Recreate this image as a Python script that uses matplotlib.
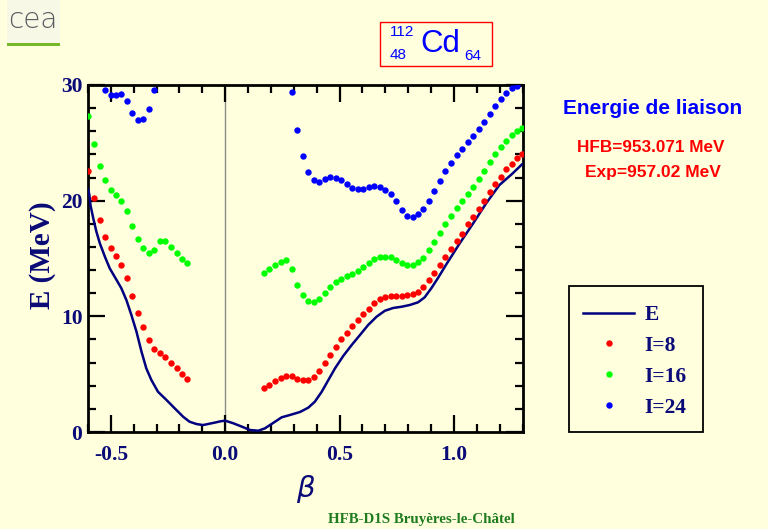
import matplotlib
matplotlib.use("Agg")
import matplotlib.pyplot as plt
from matplotlib.patches import Rectangle
from matplotlib.lines import Line2D
from matplotlib.ticker import MultipleLocator

BG = "#FFFFDD"
NAVY = "#0A0A78"

# HFB ground-state energy curve
beta_curve = [-0.6, -0.594, -0.589, -0.577, -0.563, -0.548, -0.526, -0.505, -0.475, -0.454,
              -0.432, -0.410, -0.388, -0.366, -0.345, -0.323, -0.294, -0.257, -0.221, -0.184,
              -0.156, -0.126, -0.097, -0.068, -0.039, -0.022, 0.0, 0.036, 0.073, 0.109,
              0.145, 0.174, 0.211, 0.247, 0.283, 0.327, 0.363, 0.392, 0.422, 0.451,
              0.480, 0.516, 0.553, 0.589, 0.625, 0.662, 0.698, 0.734, 0.771, 0.807,
              0.843, 0.872, 0.901, 0.930, 0.967, 1.025, 1.083, 1.141, 1.199, 1.257,
              1.298]
energy_curve = [21.0, 20.5, 19.6, 18.47, 17.3, 16.3, 15.15, 14.15, 13.14, 12.42,
                11.4, 10.1, 8.67, 6.94, 5.5, 4.5, 3.48, 2.77, 2.05, 1.32,
                0.89, 0.69, 0.6, 0.72, 0.84, 0.92, 0.98, 0.75, 0.46, 0.17,
                0.11, 0.32, 0.8, 1.27, 1.47, 1.73, 2.1, 2.62, 3.48, 4.49,
                5.5, 6.57, 7.52, 8.38, 9.25, 9.97, 10.48, 10.72, 10.83, 10.98,
                11.21, 11.64, 12.42, 13.3, 14.5, 16.3, 18.0, 19.77, 21.35, 22.36,
                23.14]

# deformation grids of the cranking points (oblate / prolate side)
beta_obl = [-0.599, -0.574, -0.549, -0.525, -0.501, -0.478, -0.454, -0.430, -0.406, -0.382,
            -0.358, -0.334, -0.310, -0.286, -0.262, -0.238, -0.213, -0.190, -0.166]
beta_pro = [0.170, 0.193, 0.218, 0.243, 0.266, 0.291, 0.315, 0.339, 0.363, 0.387,
            0.411, 0.435, 0.459, 0.483, 0.507, 0.531, 0.555, 0.579, 0.603, 0.627,
            0.651, 0.675, 0.699, 0.723, 0.747, 0.771, 0.795, 0.819, 0.843, 0.867,
            0.891, 0.915, 0.939, 0.963, 0.987, 1.012, 1.035, 1.060, 1.083, 1.108,
            1.131, 1.156, 1.179, 1.204, 1.227, 1.252, 1.275, 1.298]

i8_obl = [22.6, 20.2, 18.3, 16.9, 15.9, 15.2, 14.4, 13.3, 11.8, 10.3,
          9.05, 7.95, 7.2, 6.85, 6.45, 6.0, 5.5, 5.0, 4.6]
i8_pro = [3.77, 4.06, 4.4, 4.64, 4.87, 4.8, 4.58, 4.47, 4.52, 4.78,
          5.27, 5.96, 6.66, 7.37, 8.0, 8.6, 9.13, 9.65, 10.17, 10.63,
          11.12, 11.5, 11.64, 11.75, 11.8, 11.8, 11.84, 11.9, 12.13, 12.53,
          13.1, 13.74, 14.43, 15.15, 15.8, 16.53, 17.16, 17.98, 18.58, 19.24,
          19.99, 20.71, 21.43, 22.07, 22.7, 23.2, 23.65, 24.0]

i16_obl = [27.3, 24.9, 23.0, 21.75, 20.9, 20.5, 20.0, 19.1, 17.8, 16.65,
           15.9, 15.5, 15.7, 16.5, 16.5, 16.0, 15.5, 15.0, 14.6]
i16_pro = [13.74, 14.06, 14.43, 14.66, 14.84, 14.11, 12.7, 11.81, 11.32, 11.2,
           11.47, 11.98, 12.53, 12.94, 13.22, 13.45, 13.65, 13.9, 14.26, 14.6,
           14.95, 15.1, 15.15, 15.1, 14.87, 14.58, 14.4, 14.43, 14.66, 15.06,
           15.7, 16.4, 17.23, 17.95, 18.64, 19.33, 19.94, 20.57, 21.18, 21.87,
           22.56, 23.31, 24.0, 24.66, 25.2, 25.7, 26.04, 26.3]

beta_i24_obl = [-0.525, -0.501, -0.478, -0.454, -0.430, -0.406, -0.382, -0.358, -0.334, -0.310]
i24_obl = [29.6, 29.1, 29.1, 29.2, 28.6, 27.6, 27.0, 27.05, 27.9, 29.6]
beta_i24_pro = beta_pro[5:47]
i24_pro = [29.4, 26.1, 23.9, 22.5, 21.75, 21.6, 21.84, 22.07, 22.0, 21.75,
           21.4, 21.06, 20.97, 21.0, 21.18, 21.26, 21.15, 20.9, 20.54, 19.97,
           19.2, 18.64, 18.55, 18.84, 19.27, 19.97, 20.8, 21.7, 22.56, 23.28,
           23.91, 24.5, 25.04, 25.56, 26.16, 26.8, 27.48, 28.2, 28.78, 29.27,
           29.7, 29.95]

SERIF = "Liberation Serif"
SANS = "Liberation Sans"
plt.rcParams["axes.unicode_minus"] = False

W, H = 768, 529
fig = plt.figure(figsize=(W / 100, H / 100), dpi=100, facecolor=BG)


def fx(px):
    return px / W


def fy(py):
    return 1 - py / H


ax = fig.add_axes([fx(88), fy(432), fx(522.5) - fx(88), fy(85) - fy(432)])
ax.set_facecolor(BG)

ax.axvline(0.0, color="#8C8C8C", lw=1.0, zorder=1)
ax.plot(beta_curve, energy_curve, color="#000080", lw=1.8, zorder=3)

mk = dict(marker="o", ls="none", ms=4.6, mew=0, zorder=4)
ax.plot(beta_obl, i8_obl, color="#FF0000", **mk)
ax.plot(beta_pro, i8_pro, color="#FF0000", **mk)
ax.plot(beta_obl, i16_obl, color="#00FF00", **mk)
ax.plot(beta_pro, i16_pro, color="#00FF00", **mk)
ax.plot(beta_i24_obl, i24_obl, color="#0000FF", **mk)
ax.plot(beta_i24_pro, i24_pro, color="#0000FF", **mk)

ax.set_xlim(-0.6, 1.3)
ax.set_ylim(0, 30)
ax.xaxis.set_minor_locator(MultipleLocator(0.1))
ax.yaxis.set_major_locator(MultipleLocator(10))
ax.yaxis.set_minor_locator(MultipleLocator(2))
ax.set_xticks([-0.5, 0.0, 0.5, 1.0])
ax.set_xticklabels(["-0.5", "0.0", "0.5", "1.0"])
ax.tick_params(which="both", direction="in", top=True, right=True, width=1.6, color="black")
ax.tick_params(which="major", length=12)
ax.tick_params(which="minor", length=6)
ax.tick_params(axis="x", which="major", pad=9)
ax.tick_params(axis="y", which="major", pad=4)
for lab in ax.get_xticklabels() + ax.get_yticklabels():
    lab.set_fontfamily(SERIF)
    lab.set_fontweight("bold")
    lab.set_fontsize(15.5)
    lab.set_color(NAVY)
for sp in ax.spines.values():
    sp.set_linewidth(2.0)
    sp.set_color("black")

fig.text(fx(42), fy(255), "E (MeV)", rotation=90, ha="center", va="center",
         fontfamily=SERIF, fontweight="bold", fontsize=21, color=NAVY)
fig.text(fx(305), fy(489), "\u03b2", ha="center", va="center", fontfamily="DejaVu Sans",
         style="italic", fontsize=21, color=NAVY)

# legend: frame drawn separately, entries placed inside it
fig.patches.append(Rectangle((fx(569), fy(432)), fx(703) - fx(569), fy(286) - fy(432),
                             transform=fig.transFigure, facecolor=BG, edgecolor="black",
                             lw=1.3, zorder=0))
handles = [
    Line2D([], [], color="#000080", lw=1.8),
    Line2D([], [], color="#FF0000", marker="o", ls="none", ms=4.6, mew=0),
    Line2D([], [], color="#00FF00", marker="o", ls="none", ms=4.6, mew=0),
    Line2D([], [], color="#0000FF", marker="o", ls="none", ms=4.6, mew=0),
]
fig.legend(handles, ["E", "I=8", "I=16", "I=24"], loc="upper left",
           bbox_to_anchor=(fx(583), fy(305)), bbox_transform=fig.transFigure,
           prop=dict(family=SERIF, weight="bold", size=15.5), labelcolor=NAVY,
           frameon=False, borderpad=0, labelspacing=0.5, handlelength=2.37,
           handletextpad=0.5, borderaxespad=0)

fig.text(fx(653), fy(108), "Energie de liaison", ha="center", va="center",
         fontfamily=SANS, fontweight="bold", fontsize=15, color="#0000FF")
fig.text(fx(651), fy(148), "HFB=953.071 MeV", ha="center", va="center",
         fontfamily=SANS, fontweight="bold", fontsize=12.3, color="#FF0000")
fig.text(fx(653), fy(173), "Exp=957.02 MeV", ha="center", va="center",
         fontfamily=SANS, fontweight="bold", fontsize=12.5, color="#FF0000")

fig.text(fx(421), fy(520), "HFB-D1S Bruyères-le-Châtel", ha="center", va="center",
         fontfamily=SERIF, fontweight="bold", fontsize=10.8, color="#1E7B1E")

# nucleus label box
fig.patches.append(Rectangle((fx(380), fy(66)), fx(492) - fx(380), fy(22) - fy(66),
                             transform=fig.transFigure, fill=False, edgecolor="#FF0000", lw=1.0))
fig.text(fx(440), fy(44), "Cd", ha="center", va="center", fontfamily=SANS,
         fontsize=22.5, color="#0000FF")
fig.text(fx(402), fy(32), "112", ha="center", va="center", fontfamily=SANS,
         fontsize=11, color="#0000FF")
fig.text(fx(398), fy(55), "48", ha="center", va="center", fontfamily=SANS,
         fontsize=11, color="#0000FF")
fig.text(fx(473), fy(56), "64", ha="center", va="center", fontfamily=SANS,
         fontsize=11, color="#0000FF")

# logo block
fig.patches.append(Rectangle((fx(7), fy(46)), fx(60) - fx(7), fy(0) - fy(46),
                             transform=fig.transFigure, color="#F8F8E6", lw=0))
fig.patches.append(Rectangle((fx(7), fy(46)), fx(60) - fx(7), fy(43) - fy(46),
                             transform=fig.transFigure, color="#77B82A", lw=0))
fig.text(fx(33), fy(20), "cea", ha="center", va="center", fontfamily="DejaVu Sans",
         fontweight="light", fontsize=20, color="#565A5C")

fig.savefig("out.png", dpi=100, facecolor=BG)
